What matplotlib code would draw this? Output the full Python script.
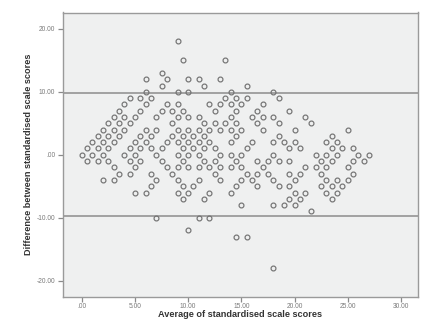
import matplotlib
matplotlib.use("Agg")
import matplotlib.pyplot as plt
from matplotlib.ticker import FixedLocator, FixedFormatter

# ---- data ----
diff_levels = [18, 15, 13, 12, 11, 10, 9, 8, 7, 6, 5, 4, 3, 2, 1, 0,
               -1, -2, -3, -4, -5, -6, -7, -8, -9, -10, -12, -13, -18]
avg_at_level = [
    [9],
    [9.5, 13.5],
    [7.5],
    [6, 8, 10, 11, 13],
    [7.5, 11.5, 15.5],
    [6, 9, 10, 14, 18],
    [4.5, 5.5, 6.5, 13.5, 14.5, 15.5, 18.5],
    [4, 6, 8, 9, 12, 13, 14, 15, 17],
    [3.5, 5.5, 7.5, 8.5, 9.5, 12.5, 14.5, 16.5, 19.5],
    [3, 4, 5, 7, 9, 10, 11, 14, 16, 17, 18, 21],
    [2.5, 3.5, 4.5, 8.5, 11.5, 12.5, 13.5, 14.5, 16.5, 18.5, 21.5],
    [2, 3, 4, 6, 7, 9, 10, 11, 12, 13, 14, 15, 17, 20, 25],
    [1.5, 2.5, 3.5, 5.5, 6.5, 8.5, 9.5, 10.5, 11.5, 14.5, 18.5, 23.5],
    [1, 2, 3, 5, 6, 8, 9, 10, 11, 12, 14, 16, 18, 19, 20, 23, 24],
    [0.5, 1.5, 2.5, 4.5, 5.5, 6.5, 7.5, 9.5, 10.5, 11.5, 12.5, 15.5, 19.5, 20.5, 23.5, 24.5, 25.5],
    [0, 1, 2, 4, 5, 7, 9, 10, 11, 13, 14, 15, 18, 22, 23, 24, 26, 27],
    [0.5, 1.5, 2.5, 4.5, 5.5, 7.5, 9.5, 11.5, 12.5, 14.5, 16.5, 17.5, 18.5, 19.5, 22.5, 23.5, 25.5, 26.5],
    [3, 5, 8, 9, 10, 11, 12, 13, 14, 15, 17, 21, 22, 23, 25],
    [3.5, 4.5, 6.5, 8.5, 12.5, 15.5, 16.5, 17.5, 19.5, 20.5, 22.5, 25.5],
    [2, 3, 7, 9, 11, 13, 15, 16, 18, 20, 23, 24, 25],
    [6.5, 9.5, 10.5, 14.5, 16.5, 18.5, 19.5, 22.5, 23.5, 24.5],
    [5, 6, 9, 10, 12, 14, 20, 21, 23, 24],
    [9.5, 11.5, 19.5, 20.5, 23.5],
    [15, 18, 19, 20],
    [21.5],
    [7, 11, 12],
    [10],
    [14.5, 15.5],
    [18],
]
upper_limit = 9.8
lower_limit = -9.8

x_ticks = [0, 5, 10, 15, 20, 25, 30]
x_tick_labels = [".00", "5.00", "10.00", "15.00", "20.00", "25.00", "30.00"]
y_ticks = [-20, -10, 0, 10, 20]
y_tick_labels = ["-20.00", "-10.00", ".00", "10.00", "20.00"]
x_label = "Average of standardised scale scores"
y_label = "Difference between standardised scale scores"

# ---- figure ----
plt.rcParams['font.family'] = ['Liberation Sans', 'DejaVu Sans']
W, H = 422, 327
fig = plt.figure(figsize=(W / 100, H / 100), dpi=100)
fig.patch.set_facecolor('white')
ax = fig.add_axes([63 / W, 1 - 297 / H, (418 - 63) / W, (297 - 12.5) / H])
ax.set_facecolor('#eff0f0')

xs, ys = [], []
for d, avgs in zip(diff_levels, avg_at_level):
    for a in avgs:
        xs.append(a)
        ys.append(d)

ax.plot(xs, ys, linestyle='none', marker='o', markersize=3.5,
        markerfacecolor='none', markeredgecolor='#727272', markeredgewidth=0.85,
        zorder=3)

ax.axhline(upper_limit, color='#8c8c8c', linewidth=1.1, zorder=2)
ax.axhline(lower_limit, color='#8c8c8c', linewidth=1.1, zorder=2)

ax.set_xlim(-1.76, 31.6)
ax.set_ylim(-22.6, 22.6)

ax.xaxis.set_major_locator(FixedLocator(x_ticks))
ax.xaxis.set_major_formatter(FixedFormatter(x_tick_labels))
ax.yaxis.set_major_locator(FixedLocator(y_ticks))
ax.yaxis.set_major_formatter(FixedFormatter(y_tick_labels))

for s in ax.spines.values():
    s.set_color('#9a9a9a')
    s.set_linewidth(1.0)

ax.tick_params(axis='both', direction='out', length=3.5, width=0.9,
               color='#8a8a8a', labelsize=4.8, labelcolor='#7a7a7a')
ax.tick_params(axis='x', pad=1.0)
ax.tick_params(axis='y', pad=2.0)

ax.set_xlabel(x_label, fontsize=6.6, fontweight='bold', color='#333333', labelpad=0)
ax.set_ylabel(y_label, fontsize=6.6, fontweight='bold', color='#333333', labelpad=3)

fig.savefig("out.png", dpi=100, facecolor='white')
